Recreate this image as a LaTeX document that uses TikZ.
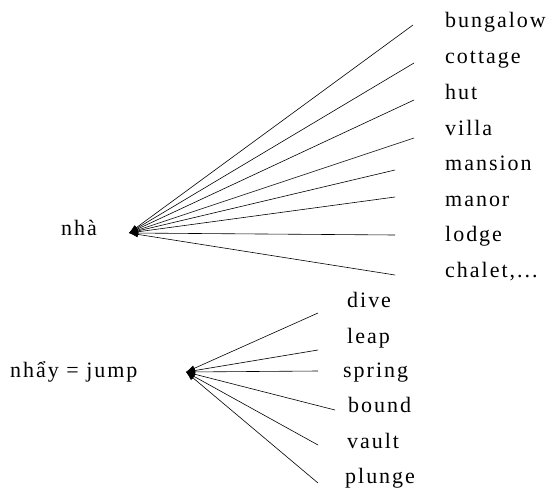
\documentclass[tikz,border=0pt]{standalone}
\usepackage{fontspec}
\setmainfont{Liberation Serif}[LetterSpace=9]
\usetikzlibrary{arrows.meta}
\begin{document}
\begin{tikzpicture}[x=1pt,y=-1pt,
  word/.style={anchor=base west,inner sep=0pt,font=\fontsize{22}{26}\selectfont},
  ray/.style={line width=0.6pt,{Latex[length=9pt,width=6pt]}-}]
\useasboundingbox (0,0) rectangle (553,487);
% upper group
\node[word,anchor=base east] (nha) at (97,235) {nhà};
\coordinate (h1) at (129,233);
\node[word] (w1) at (445,28) {bungalow};
\node[word] (w2) at (445,63.5) {cottage};
\node[word] (w3) at (445,99) {hut};
\node[word] (w4) at (445,135) {villa};
\node[word] (w5) at (445,170) {mansion};
\node[word] (w6) at (445,206) {manor};
\node[word] (w7) at (445,241) {lodge};
\node[word] (w8) at (445,277) {chalet,...};
\coordinate (e1) at (413,25);
\coordinate (e2) at (414,63);
\coordinate (e3) at (414,100);
\coordinate (e4) at (414,138);
\coordinate (e5) at (395,170);
\coordinate (e6) at (395,197);
\coordinate (e7) at (395,235);
\coordinate (e8) at (395,275);
\foreach \i in {1,...,8} \draw[ray] (h1) -- (e\i);
% lower group
\node[word] (nhay) at (10,377) {nhẩy = jump};
\coordinate (h2) at (186,372);
\node[word] (d1) at (347,307) {dive};
\node[word] (d2) at (347,343) {leap};
\node[word] (d3) at (343,377) {spring};
\node[word] (d4) at (348,412) {bound};
\node[word] (d5) at (347,448) {vault};
\node[word] (d6) at (345,483) {plunge};
\coordinate (f1) at (318,313);
\coordinate (f2) at (318,350);
\coordinate (f3) at (318,371);
\coordinate (f4) at (335,410);
\coordinate (f5) at (318,445);
\coordinate (f6) at (318,483);
\foreach \i in {1,...,6} \draw[ray] (h2) -- (f\i);
\end{tikzpicture}
\end{document}
